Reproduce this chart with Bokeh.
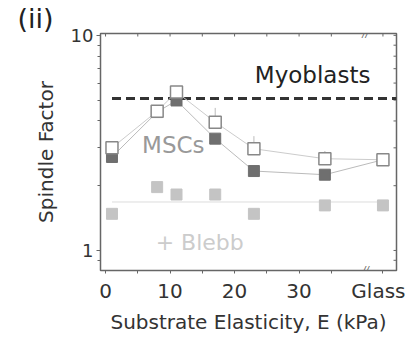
import math
from bokeh.plotting import figure
from bokeh.models import Range1d, FixedTicker, Label
from bokeh.core.properties import value
from bokeh.embed import file_html
from bokeh.resources import INLINE

# ---- data ----
elasticity = [1, 8, 11, 17, 23, 34, 43]          # kPa; 43 = position used for "Glass"
msc_open = [3.0, 4.44, 5.45, 3.95, 2.97, 2.67, 2.64]
msc_open_upper = [3.0, 4.44, 5.45, 4.6, 3.4, 2.9, 2.64]
msc_filled = [2.72, 4.4, 4.98, 3.31, 2.34, 2.25, 2.64]
blebb = [1.48, 1.97, 1.82, 1.82, 1.48, 1.62, 1.62]
blebb_mean = 1.68
myoblast_level = 5.08
x_tick_values = [0, 10, 20, 30, 43]
x_tick_labels = ["0", "10", "20", "30", "Glass"]
x_minor_ticks = [5, 15, 25, 35]
y_tick_values = [1, 10]
y_tick_labels = ["1", "10"]
y_minor_ticks = [0.9, 2, 3, 4, 5, 6, 7, 8, 9]

X_START, X_END = -0.78, 45.1
Y_START, Y_END = 0.807, 10.2
FONT = "DejaVu Sans"
AX = "#666666"

p = figure(width=405, height=336, output_backend="svg", toolbar_location=None,
           y_axis_type="log", x_range=Range1d(X_START, X_END), y_range=Range1d(Y_START, Y_END),
           min_border_left=100, min_border_right=9, min_border_top=0, min_border_bottom=66)
p.xgrid.visible = False
p.ygrid.visible = False
p.outline_line_color = AX
p.outline_line_width = 1.5

# panel tag as title
p.title.text = "(ii)"
p.title.align = "left"
p.title.offset = -83
p.title.standoff = 0
p.title.text_font = FONT
p.title.text_font_size = "27px"
p.title.text_font_style = "normal"
p.title.text_color = "#222222"
p.title.vertical_align = "bottom"

# bottom axis
xa = p.xaxis[0]
xa.ticker = FixedTicker(ticks=x_tick_values, minor_ticks=x_minor_ticks)
xa.major_label_overrides = {v: s for v, s in zip(x_tick_values, x_tick_labels)}
xa.major_label_text_font = FONT
xa.major_label_text_font_size = "20px"
xa.major_label_text_color = "#333333"
xa.major_label_standoff = 5
xa.axis_label = "Substrate Elasticity, E (kPa)"
xa.axis_label_text_font = FONT
xa.axis_label_text_font_size = "20px"
xa.axis_label_text_font_style = "normal"
xa.axis_label_text_color = "#333333"
xa.axis_label_standoff = 4
xa.axis_line_color = AX
xa.major_tick_line_color = AX
xa.minor_tick_line_color = AX
xa.major_tick_out = 3
xa.major_tick_in = 0
xa.minor_tick_out = 3
xa.minor_tick_in = 0

# left axis
ya = p.yaxis[0]
ya.ticker = FixedTicker(ticks=y_tick_values, minor_ticks=y_minor_ticks)
ya.major_label_overrides = {v: s for v, s in zip(y_tick_values, y_tick_labels)}
ya.major_label_text_font = FONT
ya.major_label_text_font_size = "18px"
ya.major_label_text_color = "#333333"
ya.major_label_standoff = 3
ya.axis_label = "Spindle Factor"
ya.axis_label_text_font = FONT
ya.axis_label_text_font_size = "20px"
ya.axis_label_text_font_style = "normal"
ya.axis_label_text_color = "#333333"
ya.axis_label_standoff = 10
ya.axis_line_color = AX
ya.major_tick_line_color = AX
ya.minor_tick_line_color = AX
ya.major_tick_out = 4
ya.major_tick_in = 0
ya.minor_tick_out = 3
ya.minor_tick_in = 0

# ticks on top and right edges (inward)
top_ticks = x_tick_values + x_minor_ticks
p.ray(top_ticks, [Y_END] * len(top_ticks), length=3, length_units="screen",
      angle=-math.pi / 2, line_color=AX, line_width=1)
right_ticks = y_tick_values + y_minor_ticks
p.ray([X_END] * len(right_ticks), right_ticks, length=3, length_units="screen",
      angle=math.pi, line_color=AX, line_width=1)

# myoblast reference
p.line([elasticity[0], X_END], [myoblast_level, myoblast_level], line_color="#333333",
       line_width=3, line_dash="9 5")
# blebb mean
p.line([elasticity[0], elasticity[-1]], [blebb_mean, blebb_mean], line_color="#dddddd", line_width=1)

# connecting lines
p.line(elasticity, msc_filled, line_color="#bbbbbb", line_width=1)
p.line(elasticity, msc_open, line_color="#cccccc", line_width=1)
# error bars
p.segment(elasticity, msc_open, elasticity, msc_open_upper, line_color="#bbbbbb", line_width=1)

p.scatter(elasticity, blebb, marker="square", size=11, fill_color="#c4c4c4", line_color="#c4c4c4")
p.scatter(elasticity, msc_filled, marker="square", size=11, fill_color="#6f6f6f", line_color="#6f6f6f")
p.scatter(elasticity, msc_open, marker="square", size=12, fill_color="white", line_color="#888888",
          line_width=1.5)

# axis break marks
p.text([40.3, 40.3], [Y_START, Y_END], text=["//", "//"], text_font=value(FONT), text_font_size="10px",
       text_color=AX, text_align="center", text_baseline="middle", text_font_style="italic")

# annotations
p.add_layout(Label(x=32.1, y=6.52, text="Myoblasts", text_font=FONT, text_font_size="23px",
                   text_color="#222222", text_align="center", text_baseline="middle"))
p.add_layout(Label(x=10.5, y=3.08, text="MSCs", text_font=FONT, text_font_size="23px",
                   text_color="#999999", text_align="center", text_baseline="middle"))
p.add_layout(Label(x=14.6, y=1.09, text="+ Blebb", text_font=FONT, text_font_size="22px",
                   text_color="#cccccc", text_align="center", text_baseline="middle"))

open("out.html", "w").write(file_html(p, INLINE))
